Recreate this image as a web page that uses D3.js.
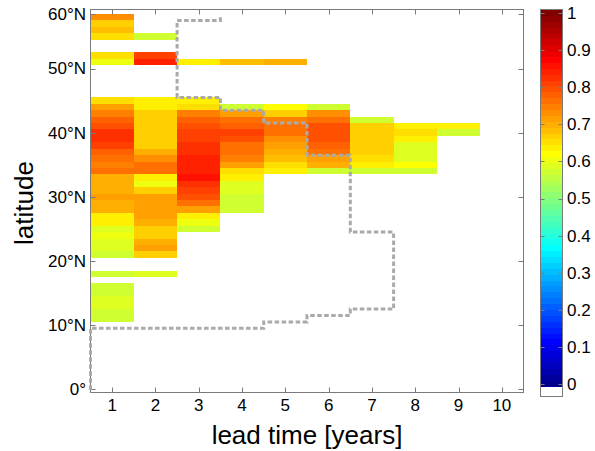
<!DOCTYPE html>
<html>
<head>
<meta charset="utf-8">
<script src="https://cdn.jsdelivr.net/npm/d3@7"></script>
<style>
  html, body { margin: 0; padding: 0; background: #fff; }
  svg { display: block; }
  text { font-family: "Liberation Sans", Arial, sans-serif; fill: #000; }
</style>
</head>
<body>
<svg id="chart" width="595" height="451"></svg>
<script>
// Lead times (years) along the x axis
const leadTimes = [1, 2, 3, 4, 5, 6, 7, 8, 9, 10];

// Latitude rows (degrees north), top to bottom, one-degree cells
const latitudes = d3.range(58, 10, -1);

const _ = null;
// Skill per latitude row, one array per lead time (null = no significant skill)
const lead1 = [.73, .665, .685, .645, _, _, .655, .60, _, _, _, _, _,
  .655, .71, .74, .77, .79, .82, .82, .80, .775, .76, .745, .76, .69, .69, .70, .71,
  .69, .69, .64, .625, .59, .60, .58, .59, .575, _, _, .575, _, .57, .575, .585, .585, .575, .57];
const lead2 = [_, _, _, .575, _, _, .81, .84, _, _, _, _, _,
  .625, .64, .665, .665, .665, .665, .665, .67, .69, .725, .75, .75, .625, .60, .665, .71,
  .71, .71, .71, .69, .67, .67, .69, .715, .67, _, _, .585, _, _, _, _, _, _, _];
const lead3 = [_, _, _, _, _, _, _, .64, _, _, _, _, _,
  .64, .655, .735, .77, .79, .81, .81, .815, .82, .83, .84, .84, .85, .825, .81, .79,
  .76, .71, .63, .60, .575, _, _, _, _, _, _, _, _, _, _, _, _, _, _];
const lead4 = [_, _, _, _, _, _, _, .68, _, _, _, _, _,
  _, .575, .71, .76, .775, .80, .79, .76, .75, .74, .71, .655, .625, .59, .59, .575,
  .575, .575, _, _, _, _, _, _, _, _, _, _, _, _, _, _, _, _, _];
const lead5 = [_, _, _, _, _, _, _, .695, _, _, _, _, _,
  _, .61, .665, .74, .75, .75, .73, .71, .69, .675, .655, .625, _, _, _, _,
  _, _, _, _, _, _, _, _, _, _, _, _, _, _, _, _, _, _, _];
const lead6 = [_, _, _, _, _, _, _, _, _, _, _, _, _,
  _, .575, .725, .76, .79, .79, .79, .775, .75, .71, .69, .575, _, _, _, _,
  _, _, _, _, _, _, _, _, _, _, _, _, _, _, _, _, _, _, _];
const lead7 = [_, _, _, _, _, _, _, _, _, _, _, _, _,
  _, _, _, .575, .665, .665, .665, .665, .665, .645, .64, .575, _, _, _, _,
  _, _, _, _, _, _, _, _, _, _, _, _, _, _, _, _, _, _, _];
const lead8 = [_, _, _, _, _, _, _, _, _, _, _, _, _,
  _, _, _, _, .625, .65, .625, .59, .59, .59, .62, .575, _, _, _, _,
  _, _, _, _, _, _, _, _, _, _, _, _, _, _, _, _, _, _, _];
const lead9 = [_, _, _, _, _, _, _, _, _, _, _, _, _,
  _, _, _, _, .625, .575, _, _, _, _, _, _, _, _, _, _,
  _, _, _, _, _, _, _, _, _, _, _, _, _, _, _, _, _, _, _];
const lead10 = latitudes.map(() => _);
const skillByLead = [lead1, lead2, lead3, lead4, lead5, lead6, lead7, lead8, lead9, lead10];

// Step boundary (lead time, latitude) drawn as a dashed outline
const boundaryLead = [3.5, 3.5, 2.5, 2.5, 3.5, 3.5, 4.5, 4.5, 5.5, 5.5, 6.5, 6.5, 7.5, 7.5,
  6.5, 6.5, 5.5, 5.5, 4.5, 4.5, 0.5, 0.5];
const boundaryLat = [58, 57.5, 57.5, 45.5, 45.5, 43.5, 43.5, 41.5, 41.5, 36.5, 36.5, 24.5, 24.5, 12.5,
  12.5, 11.5, 11.5, 10.5, 10.5, 9.5, 9.5, -0.5];

// Axis ticks
const latTickValues = [0, 10, 20, 30, 40, 50, 58.5];
const latTickLabels = ["0°", "10°N", "20°N", "30°N", "40°N", "50°N", "60°N"];
const colorTicks = [0, 0.1, 0.2, 0.3, 0.4, 0.5, 0.6, 0.7, 0.8, 0.9, 1];

// MATLAB-style jet colormap with m entries
function jetMap(m) {
  const n = Math.ceil(m / 4);
  const u = [];
  for (let i = 1; i <= n; i++) u.push(i / n);
  for (let i = 0; i < n - 1; i++) u.push(1);
  for (let i = n; i >= 1; i--) u.push(i / n);
  const off = Math.ceil(n / 2) - (m % 4 === 1 ? 1 : 0);
  const J = d3.range(m).map(() => [0, 0, 0]);
  u.forEach((val, k) => {
    const g = off + k + 1, r = g + n, b = g - n;
    if (r >= 1 && r <= m) J[r - 1][0] = val;
    if (g >= 1 && g <= m) J[g - 1][1] = val;
    if (b >= 1 && b <= m) J[b - 1][2] = val;
  });
  return J.map(c => d3.rgb(c[0] * 255, c[1] * 255, c[2] * 255).formatHex());
}
const jet = jetMap(64);
const colorOf = v => jet[Math.max(0, Math.min(63, Math.floor(v * 64)))];

const svg = d3.select("#chart");
const x = d3.scaleLinear().domain([0.5, 10.5]).range([90.5, 523.5]);
const y = d3.scaleLinear().domain([-0.5, 59.2]).range([392.5, 9.5]);
const axisColor = "#7a7a7a";

// Heatmap cells
const cells = [];
skillByLead.forEach((vals, i) => {
  vals.forEach((v, j) => {
    if (v !== null) cells.push({ lead: leadTimes[i], lat: latitudes[j], v });
  });
});
svg.append("g")
  .attr("shape-rendering", "crispEdges")
  .selectAll("rect")
  .data(cells)
  .join("rect")
  .attr("x", d => x(d.lead - 0.5))
  .attr("y", d => y(d.lat + 0.5))
  .attr("width", d => x(d.lead + 0.5) - x(d.lead - 0.5))
  .attr("height", d => y(d.lat - 0.5) - y(d.lat + 0.5))
  .attr("fill", d => colorOf(d.v));

// Axes box with inward ticks on all four sides
const tickLen = 5;
const [x0, x1] = x.range();
const [yb, yt] = y.range();
const axes = svg.append("g").attr("stroke", axisColor).attr("stroke-width", 1);
axes.append("rect").attr("x", x0).attr("y", yt).attr("width", x1 - x0).attr("height", yb - yt)
  .attr("fill", "none");
axes.selectAll(".xt").data(leadTimes).join("path")
  .attr("d", d => `M${Math.round(x(d)) + 0.5},${yb}v${-tickLen}M${Math.round(x(d)) + 0.5},${yt}v${tickLen}`);
axes.selectAll(".yt").data(latTickValues).join("path")
  .attr("d", d => `M${x0},${Math.round(y(d)) + 0.5}h${tickLen}M${x1},${Math.round(y(d)) + 0.5}h${-tickLen}`);

// Dashed boundary
const line = d3.line().x(d => x(d[0])).y(d => y(d[1]));
svg.append("path")
  .datum(boundaryLead.map((l, i) => [l, boundaryLat[i]]))
  .attr("d", line)
  .attr("fill", "none")
  .attr("stroke", "#aaaaaa")
  .attr("stroke-width", 3)
  .attr("stroke-dasharray", "4.5,2.5");

// Tick labels
svg.append("g").selectAll("text").data(leadTimes).join("text")
  .attr("x", d => x(d)).attr("y", yb + 18.5)
  .attr("text-anchor", "middle").attr("font-size", 17)
  .text(d => d);
svg.append("g").selectAll("text").data(latTickValues).join("text")
  .attr("x", 86).attr("y", d => y(d)).attr("dy", "0.35em")
  .attr("text-anchor", "end").attr("font-size", 17)
  .text((d, i) => latTickLabels[i]);

// Axis titles
svg.append("text")
  .attr("x", (x0 + x1) / 2).attr("y", 443.5)
  .attr("text-anchor", "middle").attr("font-size", 26)
  .text("lead time [years]");
svg.append("text")
  .attr("transform", "translate(33,203) rotate(-90)")
  .attr("text-anchor", "middle").attr("font-size", 26)
  .text("latitude");

// Colorbar: jet bands, white block below zero
const cbX = 540.5, cbW = 22, cbTop = 9.5, cbJetBottom = 386, cbBottom = 396.5;
const band = d3.scaleLinear().domain([0, 64]).range([cbJetBottom, cbTop]);
const cb = svg.append("g");
cb.append("g").attr("shape-rendering", "crispEdges")
  .selectAll("rect").data(jet).join("rect")
  .attr("x", cbX).attr("width", cbW)
  .attr("y", (c, i) => band(i + 1)).attr("height", (c, i) => band(i) - band(i + 1) + 0.5)
  .attr("fill", c => c);
cb.append("rect").attr("x", cbX).attr("y", cbTop).attr("width", cbW).attr("height", cbBottom - cbTop)
  .attr("fill", "none").attr("stroke", axisColor);
const cbTick = d3.scaleLinear().domain([0, 1]).range([384, 13]);
cb.selectAll(".ct").data(colorTicks).join("path")
  .attr("d", d => `M${cbX},${Math.round(cbTick(d)) + 0.5}h4M${cbX + cbW},${Math.round(cbTick(d)) + 0.5}h-4`)
  .attr("stroke", axisColor);
cb.selectAll("text").data(colorTicks).join("text")
  .attr("x", 567).attr("y", d => cbTick(d)).attr("dy", "0.35em")
  .attr("font-size", 17)
  .text(d => d);
</script>
</body>
</html>
